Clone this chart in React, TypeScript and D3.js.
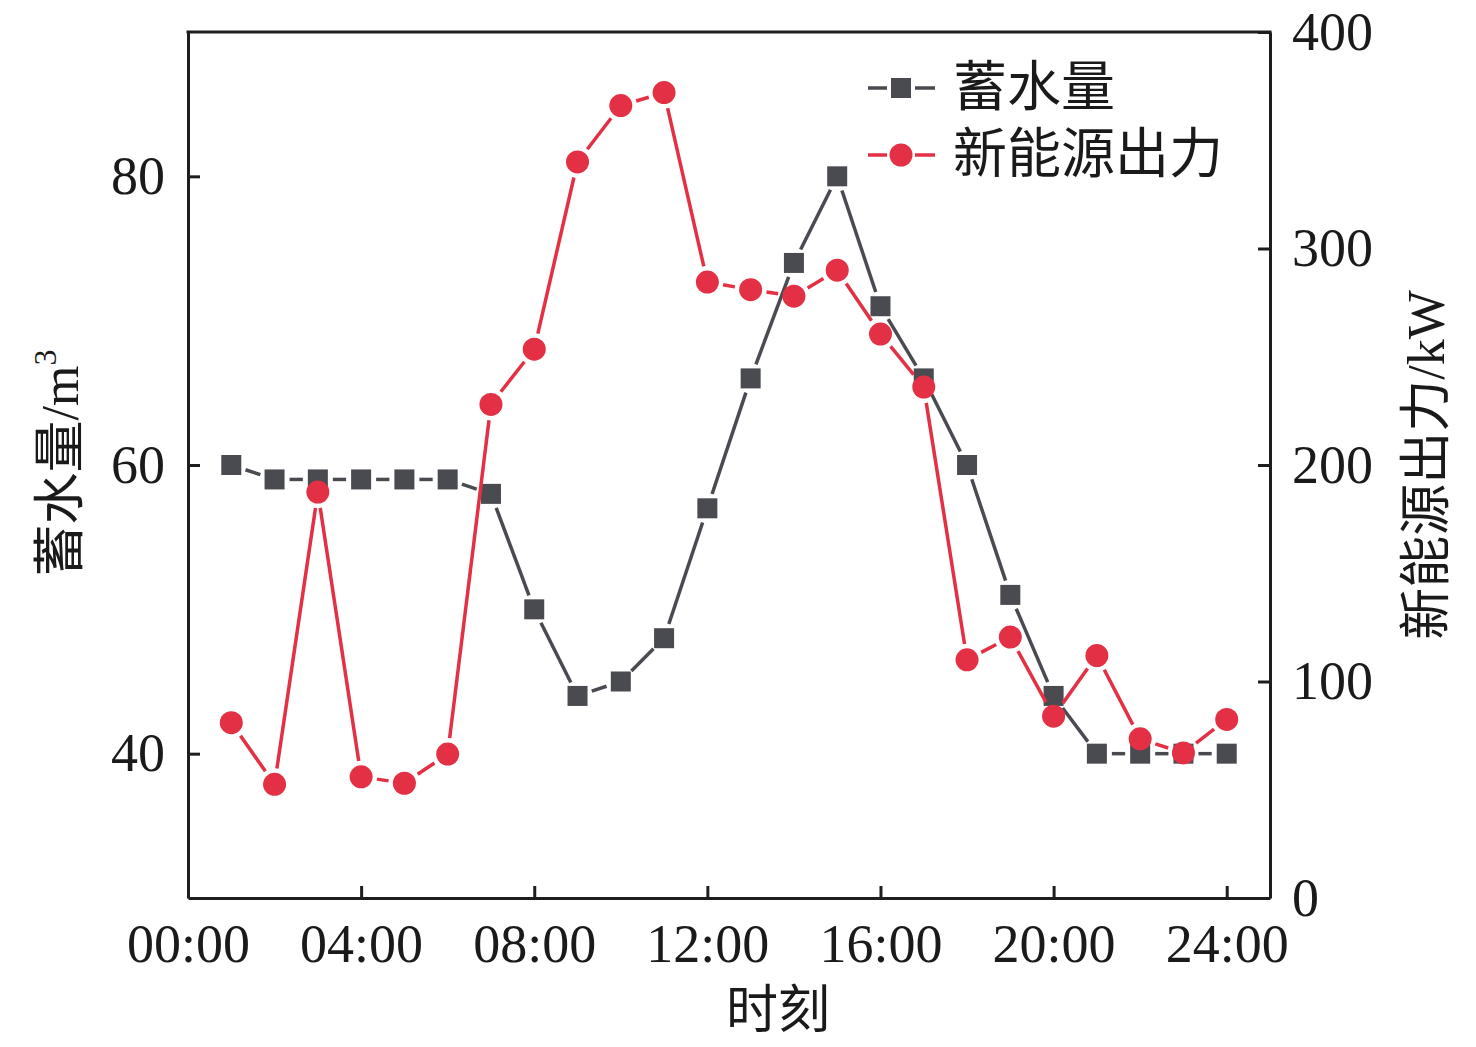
import * as d3 from 'd3'
import React, { useRef, useEffect } from 'react'

// Data
const hours = [1, 2, 3, 4, 5, 6, 7, 8, 9, 10, 11, 12, 13, 14, 15, 16, 17, 18, 19, 20, 21, 22, 23, 24]
const storage = [60, 59, 59, 59, 59, 59, 58, 50, 44, 45, 48, 57, 66, 74, 80, 71, 66, 60, 51, 44, 40, 40, 40, 40]
const renewable = [81, 52.5, 187.5, 56, 53, 66.5, 228, 253.5, 340, 366, 372, 284.5, 281, 278, 290, 260.5, 236, 110, 120.5, 84, 112, 73.5, 67, 82.5]
const xTicks = [0, 4, 8, 12, 16, 20, 24]
const xTickLabels = ['00:00', '04:00', '08:00', '12:00', '16:00', '20:00', '24:00']
const leftTicks = [40, 60, 80]
const rightTicks = [0, 100, 200, 300, 400]
const seriesNames = ['蓄水量', '新能源出力']

const FONT = '"Liberation Serif", "Noto Sans CJK SC", serif'
const GRAY = '#4a4b51'
const RED = '#e33044'
const AXIS = '#1e1e1e'

const App = () => {
  const ref = useRef<SVGSVGElement | null>(null)

  useEffect(() => {
    const svg = d3.select(ref.current)
    svg.selectAll('*').remove()

    const width = 1476
    const height = 1047
    const m = { left: 188, right: 206, top: 32, bottom: 149 }
    const x0 = m.left, x1 = width - m.right
    const y0 = height - m.bottom, y1 = m.top

    const x = d3.scaleLinear().domain([0, 25]).range([x0, x1])
    const yL = d3.scaleLinear().domain([30, 90]).range([y0, y1])
    const yR = d3.scaleLinear().domain([0, 400]).range([y0, y1])

    // Line segments with a gap around each marker
    const gapLines = (g, pts, color, gap) => {
      for (let i = 0; i < pts.length - 1; i++) {
        const [ax, ay] = pts[i]
        const [bx, by] = pts[i + 1]
        const len = Math.hypot(bx - ax, by - ay)
        if (len <= gap * 2) continue
        const ux = (bx - ax) / len, uy = (by - ay) / len
        g.append('line')
          .attr('x1', ax + ux * gap).attr('y1', ay + uy * gap)
          .attr('x2', bx - ux * gap).attr('y2', by - uy * gap)
          .attr('stroke', color)
          .attr('stroke-width', 3.5)
      }
    }

    // Storage series (squares, left axis)
    const gS = svg.append('g')
    const sPts = hours.map((h, i) => [x(h), yL(storage[i])])
    gapLines(gS, sPts, GRAY, 15)
    gS.selectAll('rect')
      .data(sPts)
      .enter().append('rect')
      .attr('x', d => d[0] - 10)
      .attr('y', d => d[1] - 10)
      .attr('width', 20)
      .attr('height', 20)
      .attr('fill', GRAY)

    // Renewable series (circles, right axis)
    const gR = svg.append('g')
    const rPts = hours.map((h, i) => [x(h), yR(renewable[i])])
    gapLines(gR, rPts, RED, 16)
    gR.selectAll('circle')
      .data(rPts)
      .enter().append('circle')
      .attr('cx', d => d[0])
      .attr('cy', d => d[1])
      .attr('r', 11.5)
      .attr('fill', RED)

    // Axes
    const styleAxis = (g) => {
      g.selectAll('path').attr('stroke', AXIS).attr('stroke-width', 3)
      g.selectAll('line').attr('stroke', AXIS).attr('stroke-width', 3)
      g.selectAll('text').attr('fill', '#1a1a1a').style('font-family', FONT).style('font-size', '54px')
    }

    svg.append('g')
      .attr('transform', `translate(0,${y0})`)
      .call(d3.axisBottom(x).tickValues(xTicks).tickFormat((d, i) => xTickLabels[i]).tickSize(-12).tickSizeOuter(0).tickPadding(26))
      .call(styleAxis)

    svg.append('g')
      .attr('transform', `translate(${x0},0)`)
      .call(d3.axisLeft(yL).tickValues(leftTicks).tickSize(-12).tickSizeOuter(0).tickPadding(23))
      .call(styleAxis)

    svg.append('g')
      .attr('transform', `translate(${x1},0)`)
      .call(d3.axisRight(yR).tickValues(rightTicks).tickSize(-12).tickSizeOuter(0).tickPadding(22))
      .call(styleAxis)

    // Top border
    svg.append('line')
      .attr('x1', x0 - 1.5).attr('x2', x1 + 1.5)
      .attr('y1', y1).attr('y2', y1)
      .attr('stroke', AXIS).attr('stroke-width', 3)

    // Axis titles
    svg.append('text')
      .attr('x', 778)
      .attr('y', 1010)
      .attr('text-anchor', 'middle')
      .attr('dominant-baseline', 'central')
      .style('font-family', FONT)
      .style('font-size', '52px')
      .attr('fill', '#1a1a1a')
      .text('时刻')

    const lt = svg.append('text')
      .attr('transform', `translate(60,463) rotate(-90)`)
      .attr('text-anchor', 'middle')
      .attr('dominant-baseline', 'central')
      .style('font-family', FONT)
      .style('font-size', '52px')
      .attr('fill', '#1a1a1a')
    lt.append('tspan').text('蓄水量/m')
    lt.append('tspan').attr('dy', -15).style('font-size', '32px').text('3')

    svg.append('text')
      .attr('transform', `translate(1426,465) rotate(-90)`)
      .attr('text-anchor', 'middle')
      .attr('dominant-baseline', 'central')
      .style('font-family', FONT)
      .style('font-size', '52px')
      .attr('fill', '#1a1a1a')
      .text('新能源出力/kW')

    // Legend
    const legend = svg.append('g')
    seriesNames.forEach((name, i) => {
      const ly = 88 + i * 67
      const color = i === 0 ? GRAY : RED
      legend.append('line').attr('x1', 868).attr('x2', 887).attr('y1', ly).attr('y2', ly)
        .attr('stroke', color).attr('stroke-width', 3.5)
      legend.append('line').attr('x1', 915).attr('x2', 935).attr('y1', ly).attr('y2', ly)
        .attr('stroke', color).attr('stroke-width', 3.5)
      if (i === 0) {
        legend.append('rect').attr('x', 891).attr('y', ly - 10).attr('width', 20).attr('height', 20).attr('fill', color)
      } else {
        legend.append('circle').attr('cx', 901).attr('cy', ly).attr('r', 11.5).attr('fill', color)
      }
      legend.append('text')
        .attr('x', 953)
        .attr('y', ly)
        .attr('dominant-baseline', 'central')
        .style('font-family', FONT)
        .style('font-size', '54px')
        .attr('fill', '#1a1a1a')
        .text(name)
    })
  }, [])

  return (
    <svg
      ref={ ref }
      width={ 1476 }
      height={ 1047 }
      style={{ position: 'absolute', left: 0, top: 0, background: '#fff' }}
    />
  )
}

export default App
